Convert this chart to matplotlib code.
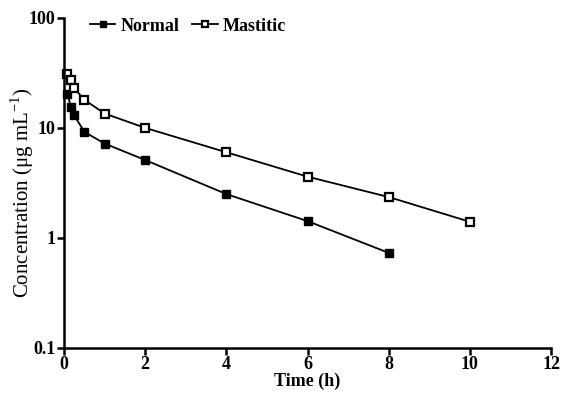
import matplotlib.pyplot as plt
from matplotlib.ticker import FixedLocator, NullLocator

# time points (h)
time_normal = [0.083, 0.167, 0.25, 0.5, 1, 2, 4, 6, 8]
conc_normal = [20.5, 15.5, 13.0, 9.2, 7.2, 5.1, 2.5, 1.42, 0.73]

time_mastitic = [0.083, 0.167, 0.25, 0.5, 1, 2, 4, 6, 8, 10]
conc_mastitic = [31.0, 27.0, 23.0, 18.0, 13.5, 10.0, 6.0, 3.6, 2.35, 1.4]

x_ticks = [0, 2, 4, 6, 8, 10, 12]
y_ticks = [0.1, 1, 10, 100]
y_tick_labels = ['0.1', '1', '10', '100']

plt.rcParams['font.family'] = ['Liberation Serif', 'DejaVu Serif']
plt.rcParams['mathtext.fontset'] = 'custom'
plt.rcParams['mathtext.rm'] = 'Liberation Serif'

fig = plt.figure(figsize=(5.67, 3.98), dpi=100, facecolor='w')
ax = fig.add_axes([0.113, 0.126, 0.859, 0.829])

ax.plot(time_normal, conc_normal, color='black', lw=1.3, marker='s',
        markersize=5.5, markerfacecolor='black', markeredgecolor='black',
        label='Normal', clip_on=False)
ax.plot(time_mastitic, conc_mastitic, color='black', lw=1.3, marker='s',
        markersize=5.5, markerfacecolor='white', markeredgecolor='black',
        markeredgewidth=1.6, label='Mastitic', clip_on=False)

ax.set_yscale('log')
ax.set_xlim(0, 12)
ax.set_ylim(0.1, 100)
ax.xaxis.set_major_locator(FixedLocator(x_ticks))
ax.yaxis.set_major_locator(FixedLocator(y_ticks))
ax.yaxis.set_minor_locator(NullLocator())
ax.set_yticklabels(y_tick_labels)

for s in ['top', 'right']:
    ax.spines[s].set_visible(False)
for s in ['left', 'bottom']:
    ax.spines[s].set_linewidth(1.8)
ax.tick_params(axis='both', width=1.8, length=5, labelsize=13, pad=1)
for lab in ax.get_xticklabels() + ax.get_yticklabels():
    lab.set_fontweight('bold')

ax.set_xlabel('Time (h)', fontsize=13, fontweight='bold', labelpad=0)
ax.set_ylabel('Concentration (\u03bcg mL$^{-1}$)', fontsize=15)
ax.yaxis.set_label_coords(-0.058, 0.47)

ax.legend(loc='upper left', bbox_to_anchor=(0.02, 1.05), ncol=2, frameon=False,
          handlelength=1.4, handletextpad=0.3, columnspacing=0.7,
          markerscale=0.8, prop={'weight': 'bold', 'size': 13})

fig.savefig('out.png', dpi=100)
